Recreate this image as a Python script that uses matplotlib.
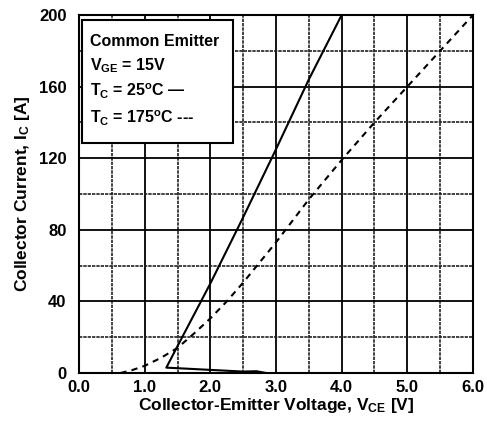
import matplotlib
matplotlib.use("Agg")
from matplotlib import pyplot as plt
from matplotlib.ticker import MultipleLocator

plt.rcParams['font.family'] = ['Liberation Sans', 'DejaVu Sans']
plt.rcParams['font.weight'] = 'bold'
plt.rcParams['mathtext.fontset'] = 'custom'
plt.rcParams['mathtext.rm'] = 'Liberation Sans:bold'
plt.rcParams['mathtext.it'] = 'Liberation Sans:bold'
plt.rcParams['mathtext.bf'] = 'Liberation Sans:bold'

# Tc = 25C (solid), includes the odd hook at the bottom of the datasheet trace
vce_25 = [2.85, 2.7, 2.5, 1.33, 1.5, 2.0, 2.5, 3.0, 3.5, 4.0]
ic_25 = [0.0, 1.0, 0.8, 3.0, 15, 50, 87, 125, 164, 200]

# Tc = 175C (dashed)
vce_175 = [0.63, 0.8, 1.0, 1.25, 1.5, 1.75, 2.0, 2.25, 2.5, 3.0, 3.5, 4.0, 4.5, 5.0, 5.5, 6.0]
ic_175 = [0, 1.5, 4, 8.5, 14, 22, 30.5, 40, 50.5, 73, 97, 119, 140, 160, 180, 200]

x_ticks = [0, 1, 2, 3, 4, 5, 6]
x_ticklabels = ["0.0", "1.0", "2.0", "3.0", "4.0", "5.0", "6.0"]
y_ticks = [0, 40, 80, 120, 160, 200]
y_ticklabels = ["0", "40", "80", "120", "160", "200"]

fig = plt.figure(figsize=(4.87, 4.23), dpi=100)
ax = fig.add_axes([79/487, 50/423, 394/487, 358/423])

ax.set_xlim(0, 6)
ax.set_ylim(0, 200)
ax.set_xticks(x_ticks)
ax.set_xticklabels(x_ticklabels, fontweight='bold', fontsize=12)
ax.set_yticks(y_ticks)
ax.set_yticklabels(y_ticklabels, fontweight='bold', fontsize=12)
ax.xaxis.set_minor_locator(MultipleLocator(0.5))
ax.yaxis.set_minor_locator(MultipleLocator(20))
ax.tick_params(which='both', length=0)
ax.tick_params(axis='x', pad=5)
ax.tick_params(axis='y', pad=9)

ax.grid(which='major', color='black', linewidth=1.3, linestyle='-')
ax.grid(which='minor', color='#222222', linewidth=1.2, linestyle=(0, (2, 0.6)))
ax.set_axisbelow(True)
for s in ax.spines.values():
    s.set_linewidth(1.5)

ax.plot(vce_25, ic_25, color='black', linewidth=1.5, linestyle='-', zorder=3)
ax.plot(vce_175, ic_175, color='black', linewidth=1.5, linestyle=(0, (3, 2.5)), zorder=3)

ax.set_xlabel("Collector-Emitter Voltage, V$_{CE}$ [V]", fontsize=12.5, fontweight='bold', labelpad=1)
ax.set_ylabel("Collector Current, I$_C$ [A]", fontsize=12.5, fontweight='bold', labelpad=5)

# legend box
box = plt.Rectangle((0.008, 0.642), 0.383, 0.344, transform=ax.transAxes,
                    facecolor='white', edgecolor='black', linewidth=1.5, zorder=4)
ax.add_patch(box)
tx = 0.028
fs = 11.5
ax.text(tx, 0.925, "Common Emitter", transform=ax.transAxes, fontsize=fs, fontweight='bold', va='center', zorder=5)
ax.text(tx, 0.858, "V$_{GE}$ = 15V", transform=ax.transAxes, fontsize=fs, fontweight='bold', va='center', zorder=5)
ax.text(tx, 0.788, "T$_C$ = 25$^o$C \u2014", transform=ax.transAxes, fontsize=fs, fontweight='bold', va='center', zorder=5)
ax.text(tx, 0.71, "T$_C$ = 175$^o$C ---", transform=ax.transAxes, fontsize=fs, fontweight='bold', va='center', zorder=5)

fig.savefig("out.png", dpi=100)
